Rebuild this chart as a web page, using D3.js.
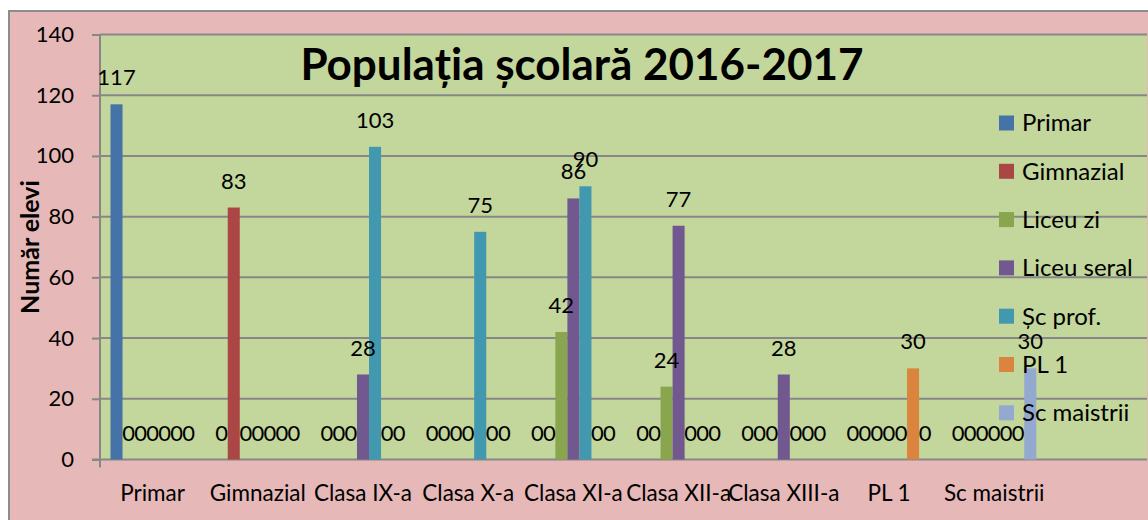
<!DOCTYPE html>
<html>
<head>
<meta charset="utf-8">
<script src="https://cdn.jsdelivr.net/npm/d3@7/dist/d3.min.js"></script>
<style>
  body { margin: 0; background: #fff; }
  svg text { font-family: Lato, "Open Sans", sans-serif; fill: #000; }
</style>
</head>
<body>
<div id="chart"></div>
<script>
// categories on the x axis
const categories = ["Primar", "Gimnazial", "Clasa IX-a", "Clasa X-a", "Clasa XI-a",
  "Clasa XII-a", "Clasa XIII-a", "PL 1", "Sc maistrii"];

// series (legend order)
const seriesNames = ["Primar", "Gimnazial", "Liceu zi", "Liceu seral", "Șc prof.", "PL 1", "Sc maistrii"];
const seriesColors = ["#4572a7", "#aa4643", "#89a54e", "#71588f", "#4198af", "#db843d", "#93a9cf"];

// values per series, one per category
const primar     = [117, 0, 0, 0, 0, 0, 0, 0, 0];
const gimnazial  = [0, 83, 0, 0, 0, 0, 0, 0, 0];
const liceuZi    = [0, 0, 0, 0, 42, 24, 0, 0, 0];
const liceuSeral = [0, 0, 28, 0, 86, 77, 28, 0, 0];
const scProf     = [0, 0, 103, 75, 90, 0, 0, 0, 0];
const pl1        = [0, 0, 0, 0, 0, 0, 0, 30, 0];
const scMaistrii = [0, 0, 0, 0, 0, 0, 0, 0, 30];

const yTicks = [0, 20, 40, 60, 80, 100, 120, 140];

const allSeries = [primar, gimnazial, liceuZi, liceuSeral, scProf, pl1, scMaistrii];

const width = 1148, height = 520;
const plot = { left: 100, top: 34.5, right: 1147, bottom: 459.5 };

const svg = d3.select('#chart').append('svg')
  .attr('width', width)
  .attr('height', height);

// chart area (pink) with border
svg.append('rect')
  .attr('x', 9).attr('y', 11)
  .attr('width', width + 20).attr('height', height + 20)
  .attr('fill', '#e6b8b7')
  .attr('stroke', '#8c8c8c').attr('stroke-width', 2);

// plot area (green)
svg.append('rect')
  .attr('x', plot.left).attr('y', plot.top)
  .attr('width', plot.right - plot.left).attr('height', plot.bottom - plot.top)
  .attr('fill', '#c3d69b');

const x = d3.scaleBand()
  .domain(categories)
  .range([plot.left, plot.left + 105.2 * categories.length]);

const x1 = d3.scaleBand()
  .domain(seriesNames)
  .range([10.5, x.bandwidth() - 10.5]);

const y = d3.scaleLinear()
  .domain([0, 140])
  .range([plot.bottom, plot.top]);

// gridlines
svg.append('g')
  .selectAll('line')
  .data(yTicks.filter(d => d > 0))
  .enter()
  .append('line')
  .attr('x1', plot.left).attr('x2', plot.right)
  .attr('y1', d => y(d)).attr('y2', d => y(d))
  .attr('stroke', '#878787').attr('stroke-width', 2);

// y axis
const yAxis = svg.append('g')
  .attr('transform', 'translate(' + plot.left + ',0)')
  .call(d3.axisLeft(y).tickValues(yTicks).tickSize(8).tickPadding(18));
yAxis.select('.domain').remove();
yAxis.selectAll('.tick line').attr('stroke', '#878787').attr('stroke-width', 2);
yAxis.selectAll('.tick text').attr('font-size', 22).attr('font-family', 'Lato');

svg.append('line')
  .attr('x1', plot.left).attr('x2', plot.left)
  .attr('y1', plot.top).attr('y2', plot.bottom + 8)
  .attr('stroke', '#878787').attr('stroke-width', 2);
svg.append('line')
  .attr('x1', plot.left - 8).attr('x2', plot.right)
  .attr('y1', plot.bottom).attr('y2', plot.bottom)
  .attr('stroke', '#878787').attr('stroke-width', 2);

// x axis labels
const xAxis = svg.append('g')
  .attr('transform', 'translate(0,' + plot.bottom + ')')
  .call(d3.axisBottom(x).tickSize(0).tickPadding(26));
xAxis.select('.domain').remove();
xAxis.selectAll('.tick text').attr('font-size', 22.5).attr('font-family', 'Lato');

// bars
const groups = svg.append('g')
  .selectAll('g')
  .data(allSeries)
  .enter()
  .append('g')
  .attr('fill', (d, i) => seriesColors[i]);

groups.selectAll('rect')
  .data((vals, si) => vals.map((v, ci) => ({ v: v, s: seriesNames[si], c: categories[ci] })))
  .enter()
  .filter(d => d.v > 0)
  .append('rect')
  .attr('x', d => x(d.c) + x1(d.s))
  .attr('width', x1.bandwidth())
  .attr('y', d => y(d.v))
  .attr('height', d => y(0) - y(d.v));

// legend
const legend = svg.append('g')
  .selectAll('g')
  .data(seriesNames)
  .enter()
  .append('g')
  .attr('transform', (d, i) => 'translate(999,' + (123 + i * 48.3) + ')');

legend.append('rect')
  .attr('x', 0).attr('y', -7.5)
  .attr('width', 15).attr('height', 15)
  .attr('fill', (d, i) => seriesColors[i]);

legend.append('text')
  .attr('x', 23).attr('dy', '0.35em')
  .attr('font-size', 24)
  .text(d => d);

// data labels
const labels = svg.append('g');
allSeries.forEach((vals, si) => {
  vals.forEach((v, ci) => {
    labels.append('text')
      .attr('x', x(categories[ci]) + x1(seriesNames[si]) + x1.bandwidth() / 2)
      .attr('y', y(v) - 19)
      .attr('text-anchor', 'middle')
      .attr('font-size', 22)
      .text(v);
  });
});

// title
svg.append('text')
  .attr('x', 582).attr('y', 80)
  .attr('text-anchor', 'middle')
  .attr('font-size', 44)
  .attr('font-weight', 'bold')
  .text('Populația școlară 2016-2017');

// y axis title
svg.append('text')
  .attr('transform', 'translate(39,247) rotate(-90)')
  .attr('text-anchor', 'middle')
  .attr('font-size', 25)
  .attr('font-weight', 'bold')
  .text('Număr elevi');
</script>
</body>
</html>
